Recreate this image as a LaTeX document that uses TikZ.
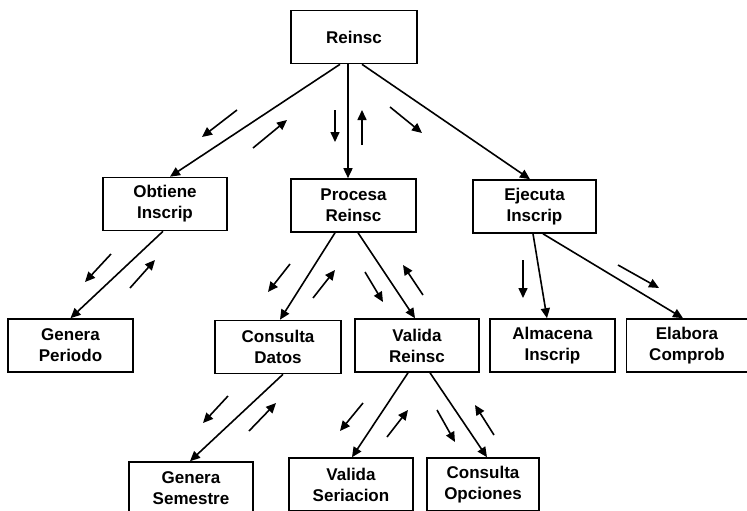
\documentclass[tikz,border=0pt]{standalone}
\usepackage{fontspec}
\setmainfont{Liberation Sans}
\usetikzlibrary{arrows.meta}

\begin{document}
\begin{tikzpicture}[x=1pt,y=-1pt,
  box/.style={draw, line width=1.6pt, rectangle, minimum height=53pt,
    align=center, inner sep=0pt,
    font=\bfseries\fontsize{17}{21}\selectfont},
  link/.style={line width=1.6pt, -{Triangle[length=10pt,width=9pt]}},
  flow/.style={line width=1.6pt, -{Triangle[length=10pt,width=9pt]}}]

\clip (0,0) rectangle (747,511);

% module boxes
\node[box, minimum width=126pt] (reinsc)  at (354,37)  {Reinsc};
\node[box, minimum width=124pt] (obtiene) at (165,204)   {Obtiene\\Inscrip};
\node[box, minimum width=125pt] (procesa) at (353.5,205.5) {Procesa\\Reinsc};
\node[box, minimum width=123pt] (ejecuta) at (534.5,206.5) {Ejecuta\\Inscrip};
\node[box, minimum width=125pt] (periodo) at (70.5,345.5) {Genera\\Periodo};
\node[box, minimum width=126pt] (datos)   at (278,347)   {Consulta\\Datos};
\node[box, minimum width=124pt] (valida)  at (417,345.5) {Valida\\Reinsc};
\node[box, minimum width=125pt] (almacena) at (552.5,345.5) {Almacena\\Inscrip};
\node[box, minimum width=121pt] (elabora) at (687,345.5) {Elabora\\Comprob};
\node[box, minimum width=124pt] (semestre) at (191,488.5) {Genera\\Semestre};
\node[box, minimum width=124pt] (seriacion) at (351,484.5) {Valida\\Seriacion};
\node[box, minimum width=112pt] (opciones) at (483,484.5) {Consulta\\Opciones};

% calls between modules
\draw[link] ([xshift=-14pt]reinsc.south) -- ([xshift=5pt]obtiene.north);
\draw[link] ([xshift=-6pt]reinsc.south) -- ([xshift=-5.5pt]procesa.north);
\draw[link] ([xshift=8pt]reinsc.south) -- ([xshift=-4.5pt]ejecuta.north);
\draw[link] ([xshift=-2pt]obtiene.south) -- ([xshift=0pt]periodo.north);
\draw[link] ([xshift=-18.5pt]procesa.south) -- ([xshift=2pt]datos.north);
\draw[link] ([xshift=4.5pt]procesa.south) -- ([xshift=-2pt]valida.north);
\draw[link] ([xshift=-1.5pt]ejecuta.south) -- ([xshift=-5.5pt]almacena.north);
\draw[link] ([xshift=8.5pt]ejecuta.south) -- ([xshift=-4pt]elabora.north);
\draw[link] ([xshift=5pt]datos.south) -- ([xshift=-1pt]semestre.north);
\draw[link] ([xshift=-9pt]valida.south) -- ([xshift=1pt]seriacion.north);
\draw[link] ([xshift=13pt]valida.south) -- ([xshift=4pt]opciones.north);

% data flow arrows beside the calls
\draw[flow] (237,110) -- (202,137);
\draw[flow] (253,148) -- (287,120);
\draw[flow] (335,110) -- (335,142);
\draw[flow] (362,145) -- (362,110);
\draw[flow] (390,107) -- (422,133);

\draw[flow] (111,254) -- (85,282);
\draw[flow] (130,288) -- (155,260);
\draw[flow] (290,264) -- (268,292);
\draw[flow] (313,298) -- (335,270);
\draw[flow] (365,272) -- (383,302);
\draw[flow] (423,295) -- (403,265);
\draw[flow] (523,260) -- (523,298);
\draw[flow] (618,265) -- (659,288);

\draw[flow] (228,396) -- (203,423);
\draw[flow] (249,431) -- (276,403);
\draw[flow] (363,403) -- (340,431);
\draw[flow] (387,437) -- (408,410);
\draw[flow] (437,410) -- (455,442);
\draw[flow] (494,435) -- (475,405);
\end{tikzpicture}
\end{document}
